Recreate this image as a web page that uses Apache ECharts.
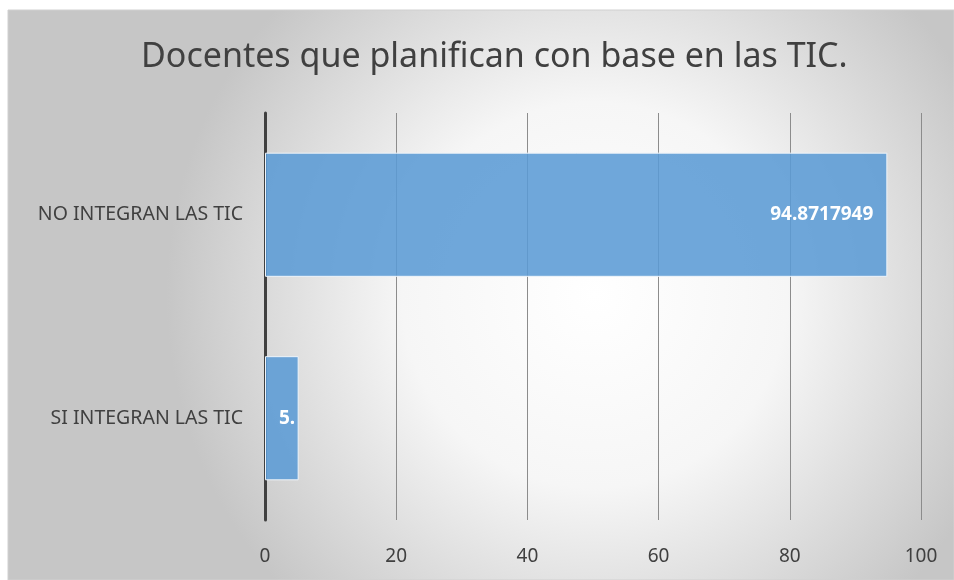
<!DOCTYPE html>
<html><head><meta charset="utf-8">
<script src="https://cdn.jsdelivr.net/npm/echarts@6/dist/echarts.min.js"></script>
<style>html,body{margin:0;padding:0;background:#fff}#c{width:954px;height:580px}</style>
</head><body><div id="c"></div>
<script>
const titleText = "Docentes que planifican con base en las TIC.";
const categories = ["SI INTEGRAN LAS TIC", "NO INTEGRAN LAS TIC"];
const values = [5.1282051, 94.8717949];
const axisMin = 0, axisMax = 100, axisInterval = 20;

const chart = echarts.init(document.getElementById('c'));
const font = "Noto Sans";
chart.setOption({
  animation: false,
  backgroundColor: '#ffffff',
  graphic: [{
    type: 'rect', z: -10, silent: true,
    shape: {x: 8, y: 10, width: 946, height: 570},
    style: {
      fill: new echarts.graphic.RadialGradient(0.62, 0.5, 0.75, [
        {offset: 0, color: '#ffffff'},
        {offset: 0.45, color: '#f6f6f6'},
        {offset: 1, color: '#c6c6c6'}
      ]),
      stroke: '#d0d0d0', lineWidth: 1
    }
  }],
  title: {
    text: titleText, left: 136, top: 35,
    textStyle: {fontFamily: font, fontSize: 34, fontWeight: 'normal', color: '#404040'}
  },
  grid: {left: 265, right: 33, top: 113, bottom: 60, containLabel: false},
  xAxis: {
    type: 'value', min: axisMin, max: axisMax, interval: axisInterval,
    axisLine: {show: false}, axisTick: {show: false},
    axisLabel: {fontFamily: font, fontSize: 19, color: '#404040', margin: 27},
    splitLine: {show: true, lineStyle: {color: '#8c8c8c', width: 1}}
  },
  yAxis: {
    type: 'category', data: categories,
    axisLine: {show: true, lineStyle: {color: '#404040', width: 3}},
    axisTick: {show: false},
    axisLabel: {fontFamily: font, fontSize: 19.5, color: '#404040', margin: 22}
  },
  series: [{
    type: 'bar', data: values.map((v, i) => ({
      value: v,
      label: i === 0 ? {position: 'insideLeft', distance: 14, width: 21, overflow: 'truncate', ellipsis: ''} : {}
    })),
    barCategoryGap: '39%',
    z: 1,
    itemStyle: {color: 'rgba(91,155,213,0.88)', borderColor: '#eef4fa', borderWidth: 1},
    label: {
      show: true, position: 'insideRight', distance: 14,
      color: '#ffffff', fontFamily: font, fontSize: 19, fontWeight: 'bold',
      formatter: p => String(p.value)
    }
  }]
});
</script></body></html>
